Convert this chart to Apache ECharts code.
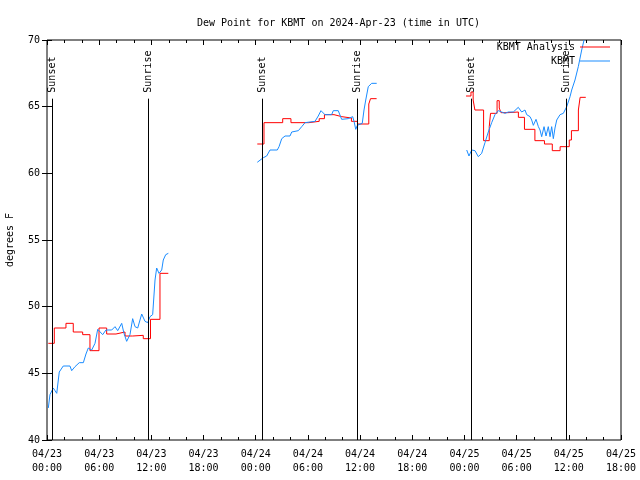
<!DOCTYPE html>
<html>
<head>
<meta charset="utf-8">
<script src="https://cdn.jsdelivr.net/npm/echarts@6/dist/echarts.min.js"></script>
<style>html,body{margin:0;padding:0;background:#fff;}#c{width:640px;height:480px;}</style>
</head>
<body>
<div id="c"></div>
<script>
// ---- data (time in hours since 2024-04-23 00:00 UTC) ----
var xTickDates = ['04/23','04/23','04/23','04/23','04/24','04/24','04/24','04/24','04/25','04/25','04/25','04/25'];
var xTickTimes = ['00:00','06:00','12:00','18:00','00:00','06:00','12:00','18:00','00:00','06:00','12:00','18:00'];

var redT1 = [0.15, 0.84, 2.18, 3.02, 4.1, 4.94, 5.98, 6.86, 7.93, 8.97, 9.85, 11.07, 11.9, 12.99, 13.95];
var redV1 = [47.25, 48.4, 48.75, 48.1, 47.9, 46.7, 48.4, 47.95, 48.1, 47.8, 47.85, 47.6, 49.05, 52.5, 52.5];
var redT2 = [24.18, 24.95, 27.1, 28.05, 30.1, 31.3, 31.9, 33.0, 33.9, 35.0, 35.7, 37.0, 37.2, 37.9];
var redV2 = [62.2, 63.8, 64.1, 63.8, 63.9, 64.1, 64.4, 64.25, 64.15, 63.9, 63.7, 65.2, 65.6, 65.6];
var redT3 = [48.18, 48.75, 49.0, 49.2, 50.2, 50.85, 51.0, 51.75, 52.0, 52.2, 53.0, 54.2, 54.9, 56.1, 57.2, 58.1, 59.0, 60.05, 60.3, 61.1, 61.3, 61.95];
var redV3 = [65.8, 66.1, 65.5, 64.75, 62.45, 63.5, 64.5, 65.45, 64.9, 64.55, 64.6, 64.2, 63.3, 62.45, 62.2, 61.7, 62.0, 62.5, 63.2, 64.75, 65.7, 65.7];

var blueT1 = [0.15,0.34,0.72,0.92,1.12,1.41,1.87,2.64,2.84,3.22,3.71,4.18,4.48,4.75,5.14,5.52,5.83,6.40,6.78,7.44,7.82,8.13,8.59,8.85,9.16,9.54,9.85,10.12,10.43,10.89,11.27,11.58,11.84,12.15,12.42,12.61,12.88,13.19,13.37,13.65,13.95];
var blueV1 = [42.4,43.4,43.9,43.7,43.5,45.1,45.55,45.55,45.2,45.5,45.8,45.8,46.45,46.9,46.75,47.25,48.3,47.9,48.25,48.25,48.5,48.2,48.75,48.0,47.4,47.9,49.1,48.5,48.4,49.45,48.9,48.8,49.25,49.4,52.0,52.9,52.5,52.75,53.5,53.9,54.0];
var blueT2 = [24.18,24.87,25.26,25.64,26.48,26.68,26.99,27.37,27.94,28.14,28.90,29.29,29.67,29.86,30.82,31.19,31.50,31.96,32.73,32.92,33.49,33.88,34.07,34.64,35.15,35.30,35.50,35.68,36.25,36.45,36.65,36.94,37.33,37.91];
var blueV2 = [60.83,61.17,61.3,61.75,61.75,62.0,62.6,62.8,62.8,63.1,63.2,63.5,63.8,63.9,63.9,64.3,64.7,64.4,64.4,64.7,64.7,64.05,63.95,64.1,64.25,63.9,63.3,63.6,63.75,64.75,65.5,66.5,66.75,66.75];
var blueT3 = [48.26,48.52,48.83,49.21,49.59,49.98,50.36,50.74,51.13,51.51,51.89,52.28,52.66,53.04,53.62,54.19,54.58,54.96,55.16,55.54,55.73,55.92,56.23,56.50,56.69,56.88,57.15,57.38,57.64,57.84,58.03,58.22,58.41,58.61,58.99,59.37,59.76,60.14,60.33,60.71,61.09,61.48,61.75];
var blueV3 = [61.75,61.3,61.75,61.7,61.25,61.5,62.3,63.1,63.8,64.4,64.7,64.6,64.5,64.6,64.6,64.95,64.6,64.75,64.4,64.25,64.0,63.6,64.05,63.5,63.25,62.75,63.5,62.8,63.5,62.75,63.5,62.6,63.4,64.0,64.4,64.5,65.0,65.75,66.25,67.0,68.0,69.25,70.0];

var sunTimes = [0.57, 11.67, 24.72, 35.64, 48.75, 59.68];
var sunLabels = ['Sunset','Sunrise','Sunset','Sunrise','Sunset','Sunrise'];
var sunTop = 65.6;

// ---- build ----
function pairs(ts, vs) { return ts.map(function (t, i) { return [t, vs[i]]; }); }
var RED = '#ff0000', BLUE = '#1a8cff';
var FONT = 'DejaVu Sans Mono';
var txt = { fontFamily: FONT, fontSize: 10, color: '#000' };

function redSeries(ts, vs) {
  return { name: 'KBMT Analysis', type: 'line', step: 'end', data: pairs(ts, vs), showSymbol: false, symbol: 'none',
    lineStyle: { color: RED, width: 1 }, itemStyle: { color: RED } };
}
function blueSeries(ts, vs) {
  return { name: 'KBMT', type: 'line', data: pairs(ts, vs), showSymbol: false, symbol: 'none',
    lineStyle: { color: BLUE, width: 1 }, itemStyle: { color: BLUE } };
}

var chart = echarts.init(document.getElementById('c'), null, { renderer: 'canvas' });
chart.setOption({
  animation: false,
  backgroundColor: '#fff',
  title: { text: 'Dew Point for KBMT on 2024-Apr-23 (time in UTC)', left: 192, top: 13,
    textStyle: { fontFamily: FONT, fontSize: 10, fontWeight: 'normal', color: '#000' } },
  legend: [
    { data: ['KBMT Analysis'], right: 30, top: 42, align: 'right', icon: 'rect', itemWidth: 30, itemHeight: 1,
      textStyle: txt, padding: 0 },
    { data: ['KBMT'], right: 30, top: 56, align: 'right', icon: 'rect', itemWidth: 30, itemHeight: 1,
      textStyle: txt, padding: 0 }
  ],
  grid: { left: 47, right: 19, top: 40, bottom: 40, containLabel: false, outerBoundsMode: 'none',
    show: true, borderColor: '#000', borderWidth: 1, backgroundColor: 'transparent' },
  xAxis: [
    { type: 'value', min: 0, max: 66, interval: 6, position: 'bottom',
      axisLine: { show: false }, splitLine: { show: false },
      axisTick: { show: true, inside: true, length: 5, lineStyle: { color: '#000' } },
      minorTick: { show: true, splitNumber: 3, length: 3, lineStyle: { color: '#000' } },
      axisLabel: { margin: 7, fontFamily: FONT, fontSize: 10, color: '#000', lineHeight: 14,
        formatter: function (v) { var i = Math.round(v / 6); return xTickDates[i] + '\n' + xTickTimes[i]; } } },
    { type: 'value', min: 0, max: 66, interval: 6, position: 'top',
      axisLine: { show: false }, splitLine: { show: false }, axisLabel: { show: false },
      axisTick: { show: true, inside: true, length: 5, lineStyle: { color: '#000' } },
      minorTick: { show: true, splitNumber: 3, length: 3, lineStyle: { color: '#000' } } }
  ],
  yAxis: [
    { type: 'value', min: 40, max: 70, interval: 5, position: 'left',
      name: 'degrees F', nameLocation: 'middle', nameRotate: 90, nameGap: 32,
      nameTextStyle: txt,
      axisLine: { show: false }, splitLine: { show: false },
      axisTick: { show: true, inside: true, length: 5, lineStyle: { color: '#000' } },
      axisLabel: { margin: 7, fontFamily: FONT, fontSize: 10, color: '#000' } },
    { type: 'value', min: 40, max: 70, interval: 5, position: 'right',
      axisLine: { show: false }, splitLine: { show: false }, axisLabel: { show: false },
      axisTick: { show: true, inside: true, length: 5, lineStyle: { color: '#000' } } }
  ],
  series: [
    redSeries(redT1, redV1), redSeries(redT2, redV2), redSeries(redT3, redV3),
    blueSeries(blueT1, blueV1), blueSeries(blueT2, blueV2), blueSeries(blueT3, blueV3),
    { name: 'sun', type: 'custom', data: sunTimes.map(function (t) { return [t, sunTop]; }),
      encode: { x: 0, y: 1 }, clip: false, z: 5,
      renderItem: function (params, api) {
        var t = api.value(0);
        var p0 = api.coord([t, 40]);
        var p1 = api.coord([t, api.value(1)]);
        var x = Math.round(p0[0]) + 0.5;
        return { type: 'group', children: [
          { type: 'line', shape: { x1: x, y1: p0[1], x2: x, y2: p1[1] }, style: { stroke: '#000', lineWidth: 1 } },
          { type: 'text', x: x, y: p1[1] - 6, rotation: Math.PI / 2,
            style: { text: sunLabels[params.dataIndex], align: 'left', verticalAlign: 'middle',
              font: '10px "DejaVu Sans Mono"', fill: '#000' } }
        ] };
      } }
  ]
});
</script>
</body>
</html>
